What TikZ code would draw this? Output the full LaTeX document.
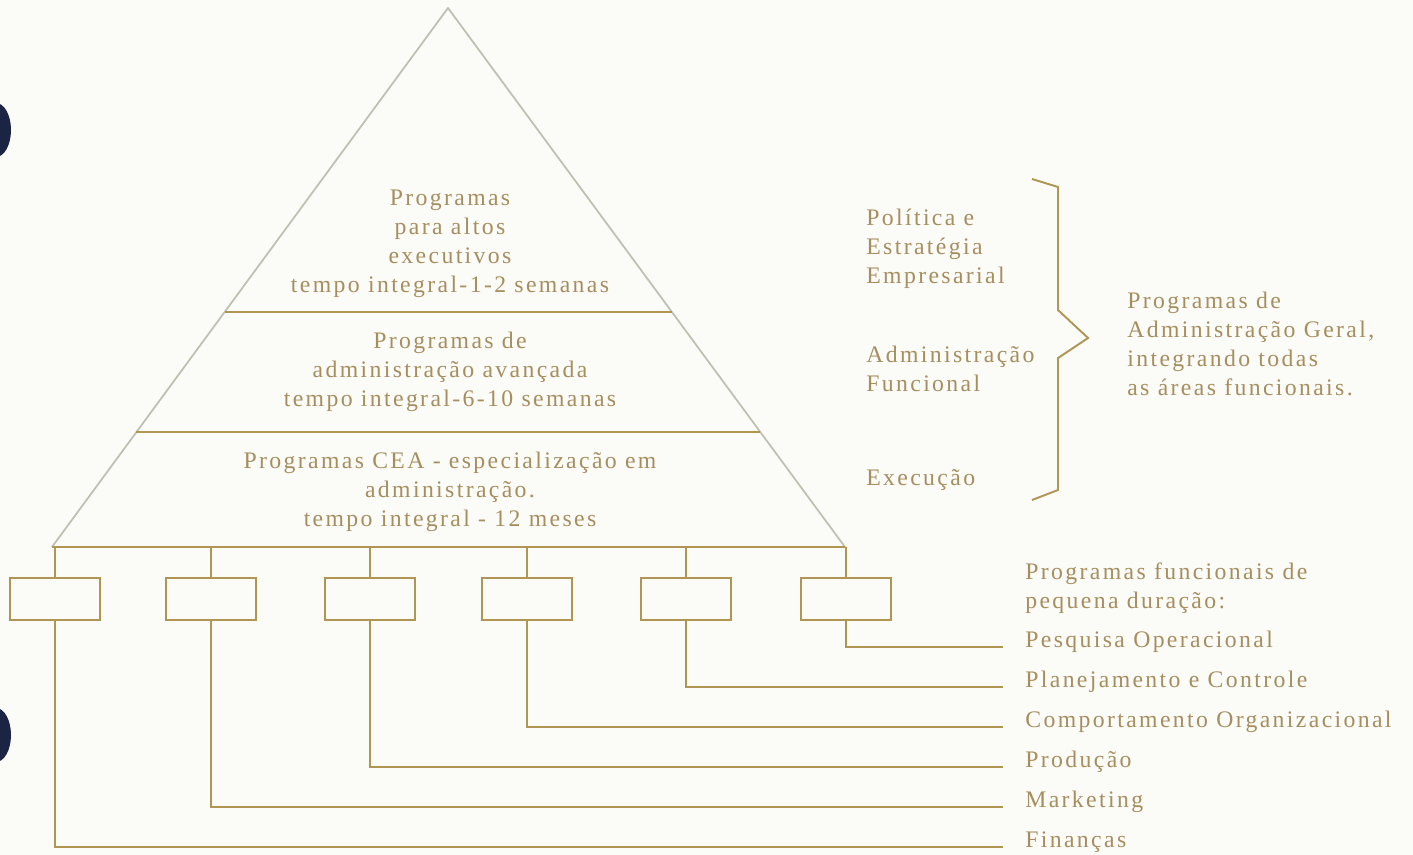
\documentclass[tikz,border=0pt]{standalone}
\usepackage{fontspec}
\setmainfont{Liberation Serif}[LetterSpace=10]
\usepackage{tikz}
\usetikzlibrary{positioning,calc}
\definecolor{paper}{HTML}{FBFBF8}
\definecolor{ochre}{HTML}{B09553}
\definecolor{inkgold}{HTML}{A68E5E}
\definecolor{sidegray}{HTML}{C0C0B2}
\definecolor{hole}{HTML}{1C2444}

\begin{document}
\begin{tikzpicture}[x=0.02cm, y=-0.02cm,
    every node/.style={font=\fontsize{13.5}{16.5}\selectfont, text=inkgold, inner sep=0pt},
    tier/.style={align=center},
    side/.style={align=left, anchor=west},
    prog/.style={draw=ochre, line width=1.1pt, minimum width=1.8cm, minimum height=0.84cm},
    rule/.style={draw=ochre, line width=1.1pt},
    slope/.style={draw=sidegray, line width=1pt},
    topic/.style={anchor=base west, inner xsep=0.44cm, inner ysep=0pt},
  ]
  \useasboundingbox[fill=paper] (0,0) rectangle (1413,855);

  % binding holes of the scan
  \fill[hole] (-4,130) ellipse [x radius=0.3cm, y radius=0.54cm];
  \fill[hole] (-4,735) ellipse [x radius=0.3cm, y radius=0.54cm];

  % the pyramid
  \coordinate (top) at (448,8);
  \coordinate (bl) at (52,547);
  \coordinate (br) at (845,547);
  \draw[slope] (bl) -- (top) -- (br);
  \draw[rule] (bl) -- (br);
  \draw[rule] ($(top)!0.564!(bl)$) -- ($(top)!0.564!(br)$);
  \draw[rule] ($(top)!0.787!(bl)$) -- ($(top)!0.787!(br)$);

  \node[tier] (tier1) at (450,244) {Programas\\ para altos\\ executivos\\ tempo integral-1-2 semanas};
  \node[tier] (tier2) at (450,372) {Programas de\\ administração avançada\\ tempo integral-6-10 semanas};
  \node[tier] (tier3) at (450,492) {Programas CEA - especialização em\\ administração.\\ tempo integral - 12 meses};

  % levels and the brace
  \node[side] (lvl1) at (866,249) {Política e\\ Estratégia\\ Empresarial};
  \node[side] (lvl2) at (866,369) {Administração\\ Funcional};
  \node[side] (lvl3) at (866,480) {Execução};
  \draw[rule] (1032,179) -- (1058,187) -- (1058,310) -- (1088,338) -- (1058,358)
              -- (1058,490) -- (1032,500);
  \node[side] (geral) at (1127,344) {Programas de\\ Administração Geral,\\ integrando todas\\ as áreas funcionais.};

  % short functional programmes
  \node[side] (curtos) at (1025,588) {Programas funcionais de\\ pequena duração:};
  \foreach \i/\x/\y/\t in {1/55/847/Finanças, 2/211/807/Marketing, 3/370/767/Produção,
      4/527/727/Comportamento Organizacional, 5/686/687/Planejamento e Controle,
      6/846/647/Pesquisa Operacional} {
    \node[prog] (b\i) at (\x,599) {};
    \node[topic] (t\i) at (1003,\y) {\t};
    \draw[rule] (b\i.north) -- (b\i.north |- bl);
    \draw[rule] (b\i.south) |- (t\i.base west);
  }
\end{tikzpicture}
\end{document}
